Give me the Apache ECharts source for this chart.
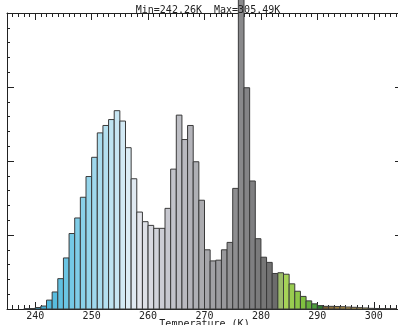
<!DOCTYPE html>
<html>
<head>
<meta charset="utf-8">
<script src="https://cdn.jsdelivr.net/npm/echarts@6/dist/echarts.min.js"></script>
<style>
  html, body { margin: 0; padding: 0; background: #fff; }
  #chart { width: 398px; height: 325px; }
</style>
</head>
<body>
<div id="chart"></div>
<script>
// histogram bins, 1 K wide, value = lower edge
const temps = [238, 239, 240, 241, 242, 243, 244, 245, 246, 247, 248, 249,
  250, 251, 252, 253, 254, 255, 256, 257, 258, 259, 260, 261, 262, 263, 264,
  265, 266, 267, 268, 269, 270, 271, 272, 273, 274, 275, 276, 277, 278, 279,
  280, 281, 282, 283, 284, 285, 286, 287, 288, 289, 290, 291, 292, 293, 294,
  295, 296, 297, 298, 299, 300, 301, 302, 303];
const counts = [0.4, 0.6, 2, 4, 12, 23, 41, 69, 102, 123, 151, 179,
  205, 238, 248, 256, 268, 254, 218, 176, 131, 118, 113, 109, 109, 136, 189,
  262, 229, 248, 199, 147, 80, 65, 66, 80, 90, 163, 420, 299, 173, 95,
  70, 63, 48, 49, 47, 34, 24, 17, 11, 7, 4.6, 3.6, 3.6, 3.4, 3.1,
  2.7, 2.3, 1.8, 1.4, 0.9, 0.7, 0.5, 0.4, 0.3];
const xRange = [235, 305];
const xMajor = [240, 250, 260, 270, 280, 290, 300];
const yRange = [0, 400];
const titleText = 'Min=242.26K  Max=305.49K';
const xName = 'Temperature (K)';

// colour table along temperature (style only)
const colourStops = [
  [240, '#3cafd8'], [246, '#74c9e6'], [252, '#b4e0f0'], [256, '#dcecf5'],
  [258, '#e4e6ec'], [262, '#cbccd4'], [270, '#a6a6aa'], [282, '#6c6c6c'],
  [282.9, '#6c6c6c'], [283, '#9cbc6a'], [284, '#a6d258'], [287, '#80c040'],
  [289, '#4e9e3c'], [290, '#2f7a2e'], [290.9, '#2f7a2e'], [291, '#7a6030'],
  [293, '#a08040'], [296, '#d0b058'], [298, '#e8d878'], [300, '#d0a060'],
  [304, '#b07848']
];
function colourAt(t) {
  if (t <= colourStops[0][0]) return colourStops[0][1];
  for (let i = 1; i < colourStops.length; i++) {
    const a = colourStops[i - 1], b = colourStops[i];
    if (t <= b[0]) {
      return echarts.color.lerp((t - a[0]) / (b[0] - a[0]), [a[1], b[1]]);
    }
  }
  return colourStops[colourStops.length - 1][1];
}

const font = 'DejaVu Sans Mono';
const ink = '#222';
const gridRect = { left: 7, top: 13, width: 395, height: 296, outerBoundsMode: 'none' };

const chart = echarts.init(document.getElementById('chart'));

// grid 0: 1 K short ticks + labels; grid 1 (same box): long ticks at the tens
function xMinor(pos, gridIndex) {
  return {
    type: 'value', gridIndex: gridIndex, position: pos,
    min: xRange[0], max: xRange[1], interval: 1,
    axisLine: { show: true, onZero: false, lineStyle: { color: ink, width: 1 } },
    axisTick: { show: true, inside: true, length: 4, lineStyle: { color: ink } },
    axisLabel: { show: false },
    splitLine: { show: false }
  };
}
function xLong(pos, gridIndex) {
  return {
    type: 'value', gridIndex: gridIndex, position: pos,
    min: xRange[0], max: xRange[1],
    axisLine: { show: false, onZero: false },
    axisTick: { show: true, inside: true, length: 7, customValues: xMajor, lineStyle: { color: ink } },
    axisLabel: { show: false },
    splitLine: { show: false }
  };
}
function yAxisOf(pos, gridIndex, visible) {
  return {
    type: 'value', gridIndex: gridIndex, position: pos,
    min: yRange[0], max: yRange[1], interval: 100,
    show: visible,
    axisLine: { show: true, onZero: false, lineStyle: { color: ink, width: 1 } },
    axisTick: { show: true, inside: true, length: 7, lineStyle: { color: ink } },
    minorTick: { show: true, splitNumber: 5, length: 3, lineStyle: { color: ink } },
    axisLabel: { show: false },
    splitLine: { show: false }
  };
}

const bottomAxis = xMinor('bottom', 0);
bottomAxis.name = xName;
bottomAxis.nameLocation = 'middle';
bottomAxis.nameGap = 10;
bottomAxis.nameMoveOverlap = false;
bottomAxis.nameTextStyle = { fontFamily: font, fontSize: 10, color: ink };
bottomAxis.axisLabel = { show: true, customValues: xMajor, fontFamily: font, fontSize: 10, color: ink, margin: 2 };

const option = {
  animation: false,
  backgroundColor: '#fff',
  title: {
    text: titleText,
    left: 203,
    textAlign: 'center',
    top: 0,
    textStyle: { fontFamily: font, fontSize: 10, fontWeight: 'normal', color: ink }
  },
  grid: [gridRect, Object.assign({}, gridRect)],
  xAxis: [bottomAxis, xMinor('top', 0), xLong('bottom', 1), xLong('top', 1)],
  yAxis: [yAxisOf('left', 0, true), yAxisOf('right', 0, true), yAxisOf('left', 1, false)],
  series: [{
    type: 'custom',
    xAxisIndex: 0,
    yAxisIndex: 0,
    clip: false,
    z: 3,
    data: temps.map((t, i) => [t, counts[i]]),
    renderItem: function (params, api) {
      const t = api.value(0);
      const topLeft = api.coord([t, api.value(1)]);
      const bottomRight = api.coord([t + 1, 0]);
      return {
        type: 'rect',
        shape: {
          x: topLeft[0],
          y: topLeft[1],
          width: bottomRight[0] - topLeft[0],
          height: bottomRight[1] - topLeft[1]
        },
        style: { fill: colourAt(t), stroke: '#3a3a3a', lineWidth: 1 }
      };
    }
  }]
};

chart.setOption(option);
</script>
</body>
</html>
